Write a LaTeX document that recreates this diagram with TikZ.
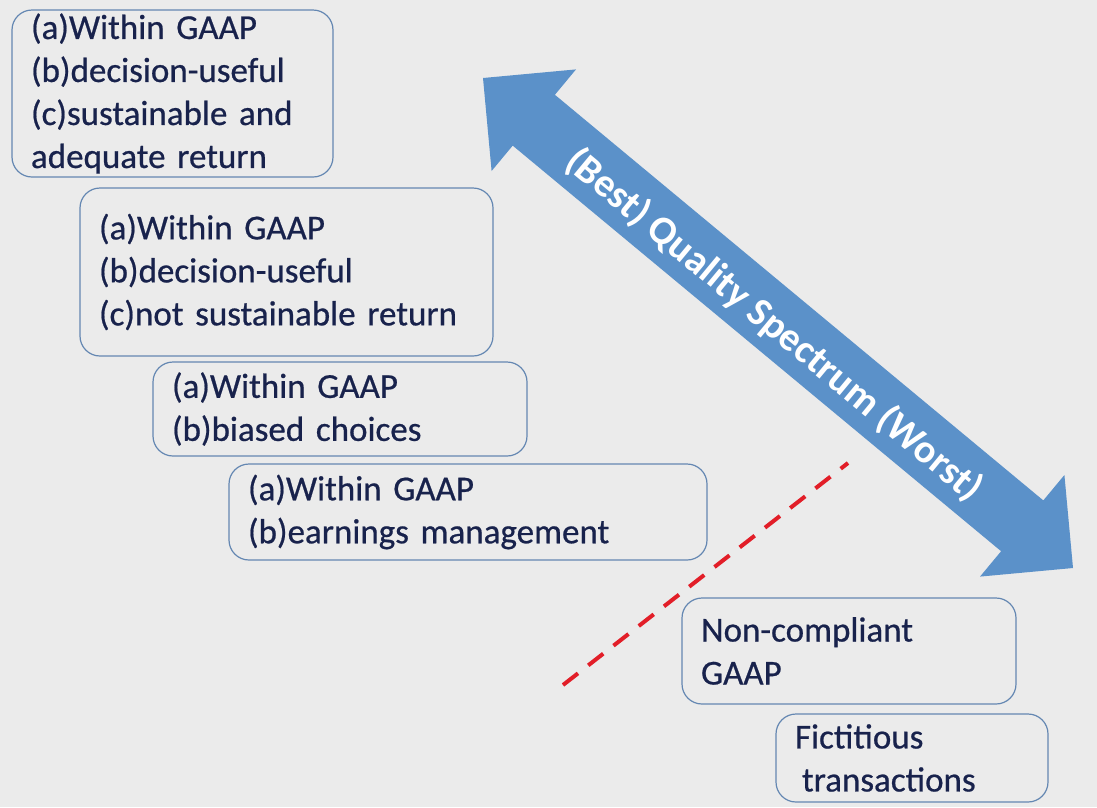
\documentclass[tikz,border=0pt]{standalone}
\usepackage{fontspec}
\setmainfont{Carlito}
\newfontfamily\boxfont[FakeBold=0.6]{Carlito}
\definecolor{bgc}{RGB}{235,235,235}
\definecolor{boxline}{RGB}{100,135,178}
\definecolor{txt}{RGB}{24,34,76}
\definecolor{arrowc}{RGB}{91,145,201}
\definecolor{redc}{RGB}{226,30,40}
\begin{document}
\begin{tikzpicture}[x=1pt,y=-1pt,
  infobox/.style={draw=boxline, line width=1.2pt, rounded corners=20pt,
    inner xsep=19pt, inner ysep=0pt, align=left, text=txt,
    font=\boxfont\fontsize{35}{43}\selectfont, anchor=center},
  spectrum/.style={fill=arrowc, draw=none},
  divider/.style={draw=redc, line width=4pt, dash pattern=on 19pt off 13pt}]
\path[fill=bgc] (0,0) rectangle (1097,807);
\useasboundingbox (0,0) rectangle (1097,807);

% boxes
\node[infobox, minimum width=321pt, minimum height=167pt, text width=283pt] (b1) at (172.5,93.5)
  {(a)Within GAAP\\(b)decision-useful\\(c)sustainable and\\adequate return};
\node[infobox, minimum width=413pt, minimum height=168pt, text width=375pt] (b2) at (286.5,272)
  {(a)Within GAAP\\(b)decision-useful\\(c)not sustainable return};
\node[infobox, minimum width=374pt, minimum height=94pt, text width=336pt] (b3) at (340,409)
  {(a)Within GAAP\\(b)biased choices};
\node[infobox, minimum width=478pt, minimum height=96pt, text width=440pt] (b4) at (468,512)
  {(a)Within GAAP\\(b)earnings management};
\node[infobox, minimum width=334pt, minimum height=106pt, text width=296pt] (b5) at (849,651)
  {Non-compliant\\GAAP};
\node[infobox, minimum width=272pt, minimum height=88pt, text width=234pt] (b6) at (912,758)
  {Fictitious\\\hspace{7pt}transactions};

% double arrow
\coordinate (t1) at (483,78);
\coordinate (t2) at (1073,568);
\path[spectrum] (t1) -- (576,69.4) -- (554.9,94.8) -- (1043.3,500.4) -- (1064.4,475)
  -- (t2) -- (980,576.6) -- (1001.1,551.2) -- (512.7,145.6) -- (491.6,171) -- cycle;
\node[text=white, rotate=-39.7, font=\bfseries\fontsize{40}{44}\selectfont, inner sep=0pt] (lab) at (774,325)
  {(Best) Quality Spectrum (Worst)};

% red dashed divider
\coordinate (d1) at (563,685);
\coordinate (d2) at (848,463);
\draw[divider] (d1) -- (d2);
\end{tikzpicture}
\end{document}
